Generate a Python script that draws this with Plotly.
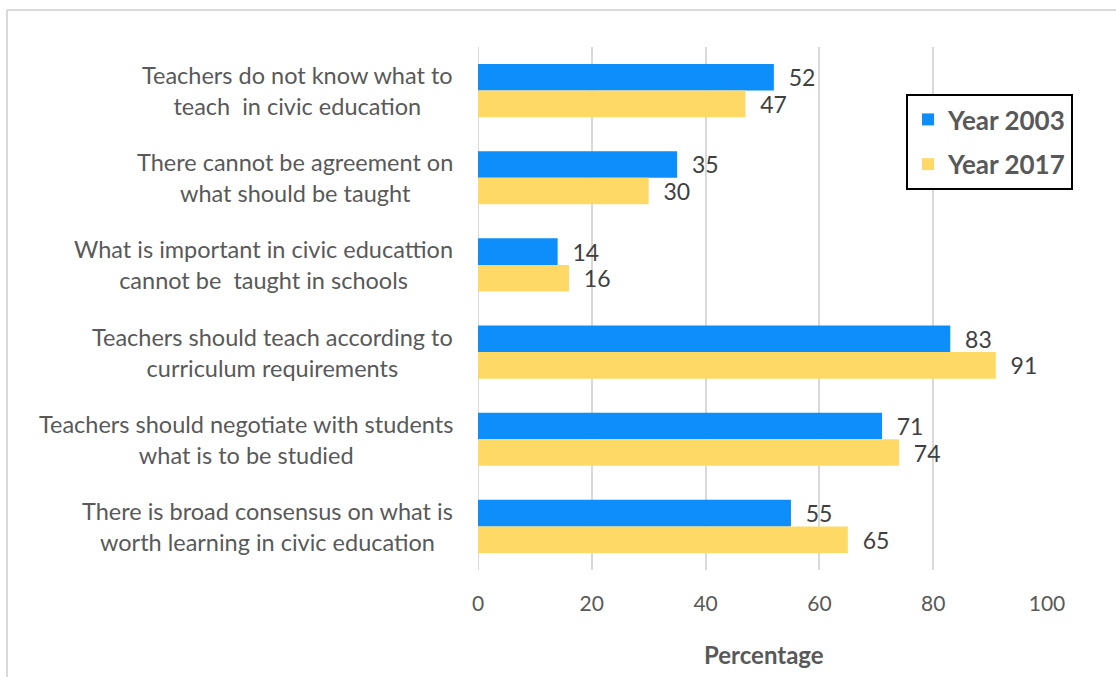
import plotly.graph_objects as go

# Survey statements (top to bottom) and percentage agreeing per year
statements = [
    "Teachers do not know what to<br>teach  in civic education",
    "There cannot be agreement on<br>what should be taught",
    "What is important in civic educattion<br>cannot be  taught in schools",
    "Teachers should teach according to<br>curriculum requirements",
    "Teachers should negotiate with students<br>what is to be studied",
    "There is broad consensus on what is<br>worth learning in civic education",
]
year_2003 = [52, 35, 14, 83, 71, 55]
year_2017 = [47, 30, 16, 91, 74, 65]
x_ticks = [0, 20, 40, 60, 80, 100]

W, H = 1116, 677
L, R, T, B = 478, 69, 47, 107
plot_w = W - L - R
plot_h = H - T - B

def px_x(px):
    return (px - L) / plot_w

def px_y(py):
    return (H - B - py) / plot_h

FONT = "Lato"
cats = list(range(len(statements)))
PAD = "\u00a0\u00a0"

fig = go.Figure()
fig.add_trace(go.Bar(
    name="Year 2003", y=cats, x=year_2003, orientation="h", legendgroup="a",
    marker=dict(color="#0E8EFB", line=dict(width=0)),
    text=[PAD + str(v) for v in year_2003], textposition="outside",
    constraintext="none",
    textfont=dict(family=FONT, size=23, color="#404040"), cliponaxis=False,
))
fig.add_trace(go.Bar(
    name="Year 2017", y=cats, x=year_2017, orientation="h", legendgroup="b",
    marker=dict(color="#FFD966", line=dict(width=0)),
    text=[PAD + str(v) for v in year_2017], textposition="outside",
    constraintext="none",
    textfont=dict(family=FONT, size=23, color="#404040"), cliponaxis=False,
))

# Category labels, centred line by line, right edge just left of the axis
annotations = []
for i, s in enumerate(statements):
    annotations.append(dict(
        x=px_x(455), xref="paper", y=i, yref="y", text=s, showarrow=False,
        xanchor="right", yanchor="middle", align="center",
        font=dict(family=FONT, size=23.5, color="#595959"),
    ))
annotations.append(dict(
    x=px_x(764), xref="paper", y=px_y(655), yref="paper", text="<b>Percentage</b>",
    showarrow=False, xanchor="center", yanchor="middle",
    font=dict(family=FONT, size=24, color="#595959"),
))

# Light chart-area frame along top and left
shapes = [
    dict(type="line", xref="paper", yref="paper", x0=px_x(7), x1=px_x(1130),
         y0=px_y(10), y1=px_y(10), line=dict(color="#D9D9D9", width=2)),
    dict(type="line", xref="paper", yref="paper", x0=px_x(7), x1=px_x(7),
         y0=px_y(10), y1=px_y(690), line=dict(color="#D9D9D9", width=2)),
]

fig.update_layout(
    width=W, height=H, autosize=False,
    margin=dict(l=L, r=R, t=T, b=B),
    paper_bgcolor="white", plot_bgcolor="white",
    barmode="group", bargap=0.39, bargroupgap=0,
    showlegend=True,
    legend=dict(
        x=px_x(906), y=px_y(94), xanchor="left", yanchor="top",
        xref="paper", yref="paper",
        bordercolor="black", borderwidth=2, bgcolor="white",
        font=dict(family=FONT, size=26, color="#595959", weight="bold"),
        itemsizing="constant", traceorder="grouped", tracegroupgap=8,
    ),
    xaxis=dict(
        range=[0, 100], tickvals=x_ticks, ticktext=[str(v) for v in x_ticks],
        showgrid=True, gridcolor="#D9D9D9", gridwidth=2,
        zeroline=False, showline=False, ticks="",
        tickfont=dict(family=FONT, size=21, color="#595959"),
        ticklabelstandoff=19,
    ),
    yaxis=dict(
        tickvals=cats, showticklabels=False, autorange="reversed",
        range=[len(cats) - 0.5, -0.5], showgrid=False, zeroline=False,
        showline=False, ticks="",
    ),
    annotations=annotations,
    shapes=shapes,
)
fig.add_shape(type="line", xref="x", yref="paper", x0=0, x1=0, y0=0, y1=1,
              line=dict(color="#D9D9D9", width=2), layer="below")

fig.write_html("out.html")
